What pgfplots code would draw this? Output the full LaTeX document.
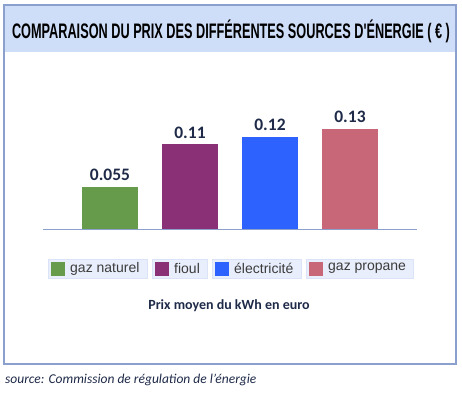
\documentclass[border=0pt]{standalone}
\usepackage{pgfplots}
\pgfplotsset{compat=1.18}
\usepackage{fontspec}
\usepackage{graphicx}
\setmainfont{Carlito}
\newfontfamily\arial{Liberation Sans}
\definecolor{framecol}{RGB}{140,160,205}
\definecolor{titlebg}{RGB}{206,221,248}
\definecolor{legbg}{RGB}{232,238,251}
\definecolor{legbd}{RGB}{218,227,247}
\definecolor{navy}{RGB}{30,42,72}
\definecolor{cgreen}{RGB}{102,155,75}
\definecolor{cpurple}{RGB}{137,48,119}
\definecolor{cblue}{RGB}{46,98,255}
\definecolor{cpink}{RGB}{200,103,119}
\definecolor{legtxt}{RGB}{60,60,60}
\begin{document}
\begin{tikzpicture}
\useasboundingbox (0,0) rectangle (462bp,-404bp);
% frame and title band
\fill[titlebg] (4bp,-5bp) rectangle (456bp,-52bp);
\draw[framecol, line width=1.2bp] (4bp,-5bp) rectangle (456bp,-364bp);
\node[anchor=center] at (231bp,-31bp) {\resizebox{438bp}{\height}{\arial\bfseries\fontsize{21bp}{21bp}\selectfont COMPARAISON DU PRIX DES DIFFÉRENTES SOURCES D\textquotesingle ÉNERGIE ( € )}};
\begin{axis}[
  at={(43bp,-229bp)}, anchor=south west,
  width=374bp, height=120bp, scale only axis,
  xmin=-0.8375, xmax=3.8375, ymin=0, ymax=0.156,
  axis x line*=bottom, hide y axis,
  xtick=\empty,
  axis line style={draw=framecol, line width=1bp},
  ybar, bar width=56bp, bar shift=0pt,
  clip=false,
  point meta=explicit symbolic,
  nodes near coords,
  every node near coord/.append style={font=\bfseries\fontsize{17.5bp}{17.5bp}\selectfont, text=navy, anchor=south, inner sep=0pt, yshift=6bp},
]
\addplot[fill=cgreen, draw=none] coordinates {(0,0.055) [0.055]};
\addplot[fill=cpurple, draw=none] coordinates {(1,0.11) [0.11]};
\addplot[fill=cblue, draw=none] coordinates {(2,0.12) [0.12]};
\addplot[fill=cpink, draw=none] coordinates {(3,0.13) [0.13]};
\end{axis}
% legend
\foreach \xa/\xb/\col/\txt in {48/147/cgreen/gaz naturel, 152/207/cpurple/fioul, 212/301/cblue/électricité, 306/413/cpink/gaz propane}{
  \filldraw[fill=legbg, draw=legbd, line width=0.8bp] (\xa bp,-259bp) rectangle (\xb bp,-278bp);
  \fill[\col] ({\xa*1bp+3bp},-262bp) rectangle ({\xa*1bp+17bp},-276bp);
  \node[anchor=west, inner sep=0pt, text=legtxt, font=\arial\fontsize{14bp}{14bp}\selectfont] at ({\xa*1bp+22bp},-268.5bp) {\txt};
}
\node[text=navy, font=\bfseries\fontsize{14bp}{14bp}\selectfont, inner sep=0pt] at (229bp,-306bp) {Prix moyen du kWh en euro};
\node[anchor=base west, text=navy, font=\itshape\fontsize{13.5bp}{13.5bp}\selectfont, inner sep=0pt] at (5bp,-383bp) {source: Commission de régulation de l’énergie};
\end{tikzpicture}
\end{document}
